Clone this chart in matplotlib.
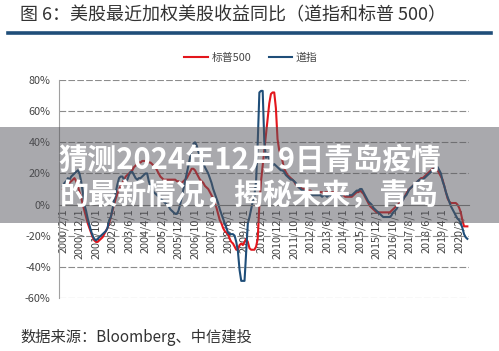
import numpy as np
import pandas as pd
import matplotlib
matplotlib.use("Agg")
import matplotlib.pyplot as plt
from matplotlib.lines import Line2D
from matplotlib.patches import Rectangle

plt.rcParams['font.family'] = ['Noto Sans CJK SC', 'DejaVu Sans']

# monthly yoy (%), 2000/2 .. 2020/7
dow = [
    12, 14, 15, 17, 16, 18, 19, 20, 21, 22, 20,               # 2000 (Feb-Dec)
    15, 8, 0, -4, -9, -13, -17, -20, -22, -23, -22, -21,      # 2001
    -20, -19, -18, -17, -15, -10, -8, -3, 3, 8, 13, 17,       # 2002
    18, 18, 16, 15, 16, 19, 21, 21, 19, 17, 16, 17,           # 2003
    17, 18, 19, 20, 20, 15, 12, 10, 8, 7, 6, 5,               # 2004
    4, 3, 2, 1, 0, -1, -3, -4, -5, -6, -6, -4,                # 2005
    0, 5, 10, 15, 20, 25, 30, 35, 39, 40, 38, 34,             # 2006
    31, 30, 27, 24, 22, 20, 17, 14, 10, 7, 4, 1,              # 2007
    -3, -6, -9, -12, -15, -18, -19, -19, -19, -20, -24, -30,  # 2008
    -42, -49, -49, -49, -30, -12, -8, -3, 2, 6, 15, 40,       # 2009
    72, 73, 73, 40, 30, 33, 28, 26, 25, 26, 25, 24,           # 2010
    23, 22, 22, 21, 19, 18, 17, 16, 16, 15, 14, 12,           # 2011
    11, 10, 9, 9, 8, 8, 7, 7, 6, 6, 6, 6,                     # 2012
    6, 6, 5, 6, 6, 5, 6, 6, 5, 6, 6, 6,                       # 2013
    6, 6, 6, 7, 7, 6, 6, 6, 6, 7, 8, 9,                       # 2014
    9, 10, 10, 8, 6, 4, 2, 1, 0, -2, -3, -4,                  # 2015
    -5, -6, -7, -8, -8, -8, -8, -8, -7, -5, -4, -3,           # 2016
    -1, 0, 1, 3, 5, 6, 8, 10, 11, 12, 13, 14,                 # 2017
    15, 16, 16, 16, 17, 18, 19, 20, 21, 22, 23, 24,           # 2018
    24, 22, 20, 15, 12, 8, 5, 2, -1, -3, -5, -7,              # 2019
    -9, -10, -12, -15, -19, -21, -22,                         # 2020 (Jan-Jul)
]

sp500 = [
    10, 12, 13, 15, 14, 15, 16, 17, 15, 12, 8,
    5, 0, -4, -8, -12, -15, -18, -21, -23, -24, -24, -23,
    -22, -21, -19, -17, -15, -12, -8, -4, 0, 4, 7, 10,
    12, 14, 16, 18, 19, 20, 21, 22, 24, 25, 26, 27,
    27, 28, 28, 28, 28, 27, 27, 26, 25, 24, 22, 20,
    18, 17, 16, 16, 16, 16, 16, 16, 16, 16, 15, 15,
    14, 14, 15, 16, 17, 19, 21, 23, 23, 22, 20, 18,
    16, 15, 14, 12, 11, 10, 8, 6, 4, 1, -2, -6,
    -10, -12, -15, -17, -18, -19, -22, -24, -25, -27, -29, -29,
    -26, -25, -26, -24, -22, -24, -28, -29, -29, -29, -27, -22,
    0, 15, 25, 35, 45, 55, 65, 71, 72, 72, 62, 42,
    35, 32, 28, 23, 21, 19, 18, 17, 16, 15, 13, 12,
    11, 11, 10, 10, 10, 9, 9, 9, 8, 8, 8, 8,
    8, 8, 8, 7, 8, 8, 8, 7, 8, 8, 8, 8,
    7, 7, 6, 6, 5, 5, 5, 5, 5, 6, 7, 8,
    8, 9, 8, 7, 5, 3, 1, -1, -2, -3, -4, -5,
    -5, -5, -5, -5, -5, -5, -5, -5, -4, -3, -2, -1,
    0, 1, 2, 3, 5, 7, 9, 10, 11, 12, 13, 14,
    15, 16, 17, 17, 18, 19, 20, 21, 22, 23, 23, 23,
    22, 20, 18, 16, 12, 8, 4, 2, 1, 1, 1, 1,
    0, -2, -5, -10, -14, -14, -14,
]

tick_labels = ["2000/2/1", "2000/12/1", "2001/10/1", "2002/8/1", "2003/6/1",
               "2004/4/1", "2005/2/1", "2005/12/1", "2006/10/1", "2007/8/1",
               "2008/6/1", "2009/4/1", "2010/2/1", "2010/12/1", "2011/10/1",
               "2012/8/1", "2013/6/1", "2014/4/1", "2015/2/1", "2015/12/1",
               "2016/10/1", "2017/8/1", "2018/6/1", "2019/4/1", "2020/2/1"]
y_ticks = [80, 60, 40, 20, 0, -20, -40, -60]

title = "图 6：美股最近加权美股收益同比（道指和标普 500）"
source = "数据来源：Bloomberg、中信建投"
banner = ["猜测2024年12月9日青岛疫情", "的最新情况，揭秘未来，青岛"]

dates = pd.date_range("2000-02-01", periods=len(dow), freq="MS")
date_str = [f"{d.year}/{d.month}/1" for d in dates]
idx = np.arange(len(dow))
tick_pos = [date_str.index(t) for t in tick_labels]

W, H = 499, 351
fig = plt.figure(figsize=(W / 100, H / 100), dpi=100)

fig.text(20 / W, 1 - 15 / H, title, fontsize=13, color='#333333', va='center')
fig.add_artist(Line2D([8 / W, 491 / W], [1 - 33 / H] * 2, lw=2.6, color='#1f4e79'))

ax = fig.add_axes([59 / W, 1 - 298 / H, 410 / W, 218 / H])
ax.plot(idx, sp500, color='#e3161c', lw=1.5, label='标普500')
ax.plot(idx, dow, color='#1f4e79', lw=1.5, label='道指')

ax.set_xlim(-2.4, 246)
ax.set_ylim(-60, 80)
ax.set_yticks(y_ticks)
ax.set_yticklabels([f"{v}%" for v in y_ticks], fontsize=7.8, color='#444444')
for v in y_ticks:
    if v != 0:
        ax.axhline(v, color='#8c8c8c', lw=0.8, ls=(0, (6, 2)), zorder=0)

ax.spines['bottom'].set_position(('data', 0))
ax.spines['bottom'].set_color('#808080')
ax.spines['left'].set_color('#a0a0a0')
ax.spines['top'].set_visible(False)
ax.spines['right'].set_visible(False)
ax.set_xticks(tick_pos)
ax.set_xticklabels(tick_labels, rotation=90, fontsize=7.8, color='#444444')
ax.tick_params(axis='x', length=0, pad=3)
ax.tick_params(axis='y', length=0, pad=6)

fig.legend(loc='center', bbox_to_anchor=(251 / W, 1 - 58 / H), ncol=2,
           frameon=False, fontsize=7.8, handlelength=2.2, handletextpad=0.3,
           columnspacing=1.6, labelcolor='#444444')

# overlay banner
fig.add_artist(Rectangle((0, 1 - 223 / H), 1, 96 / H, transform=fig.transFigure,
                         color='#55555c', alpha=0.5, zorder=10, lw=0))
fig.text(0.5, 1 - 160 / H, banner[0], ha='center', va='center', fontsize=21,
         fontweight='bold', color='white', zorder=11)
fig.text(0.5, 1 - 195 / H, banner[1], ha='center', va='center', fontsize=21,
         fontweight='bold', color='white', zorder=11)

fig.text(20 / W, 1 - 337 / H, source, fontsize=11, style='italic', color='#333333', va='center')

fig.savefig("out.png", dpi=100)
